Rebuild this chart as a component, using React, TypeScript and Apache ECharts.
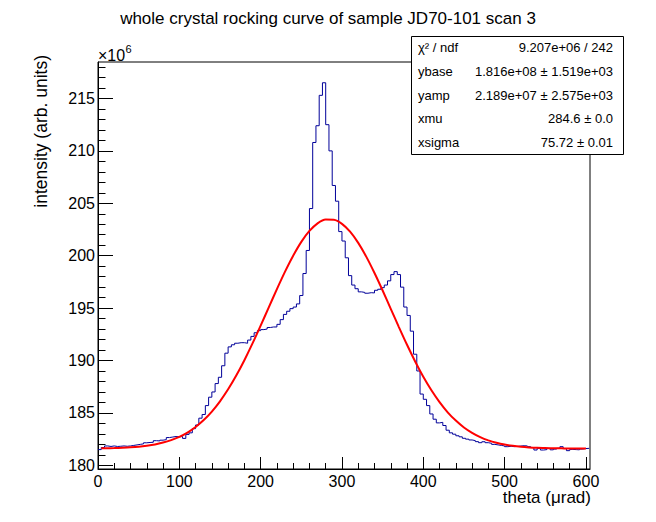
import { useEffect, useRef } from 'react';
import * as echarts from 'echarts';

const FONT = "'Liberation Sans', Arial, Helvetica, sans-serif";

// Histogram: 151 bins of width 4 starting at theta = 0 (µrad), values in units of 1e6
const BIN_START = 0;
const BIN_WIDTH = 4;
const HIST_VALUES = [
  181.5, 181.7, 181.85, 181.8, 181.85, 181.8, 181.82, 181.85, 181.82, 181.85,
  181.9, 181.95, 182.0, 182.05, 182.15, 182.18, 182.2, 182.35, 182.33, 182.4,
  182.45, 182.65, 182.7, 182.75, 182.72, 182.75, 182.57, 182.95, 183.1, 183.5,
  183.85, 184.5, 184.85, 185.7, 186.5, 187.0, 187.8, 188.4, 189.5, 190.7,
  191.3, 191.5, 191.65, 191.7, 191.7, 191.65, 191.95, 192.3, 192.65, 192.85,
  192.95, 193.0, 193.15, 193.2, 193.2, 193.45, 193.9, 194.4, 194.7, 194.95,
  195.1, 195.4, 196.2, 198.3, 200.5, 204.5, 210.8, 212.4, 215.3, 216.5,
  212.5, 210.0, 206.7, 205.2, 202.3, 201.4, 199.8, 198.1, 197.2, 196.85,
  196.55, 196.5, 196.42, 196.47, 196.45, 196.7, 196.8, 196.95, 197.2, 197.6,
  198.2, 198.48, 198.2, 197.0, 195.1, 194.3, 192.8, 190.6, 189.0, 186.8,
  186.3, 185.7, 184.9, 184.4, 184.05, 184.1, 183.8, 183.35, 183.1, 182.97,
  182.82, 182.72, 182.58, 182.5, 182.42, 182.36, 182.26, 182.16, 182.25, 182.16,
  182.1, 182.0, 181.95, 181.9, 181.85, 181.78, 181.82, 181.78, 181.8, 181.84,
  181.87, 181.85, 181.78, 181.7, 181.46, 181.62, 181.46, 181.5, 181.62, 181.48,
  181.55, 181.62, 181.78, 181.6, 181.4, 181.52, 181.5, 181.48, 181.55, 181.6, 181.62,
];

// Fit curve
const FIT_X = [
  4, 10, 20, 30, 40, 50, 60, 70, 80, 90, 100, 110, 120, 130, 140, 150, 160, 170, 180, 190,
  200, 210, 220, 230, 240, 250, 260, 270, 280, 290, 300, 310, 320, 330, 340, 350, 360, 370,
  380, 390, 400, 410, 420, 430, 440, 450, 460, 470, 480, 490, 500, 510, 520, 530, 540, 550,
  560, 570, 580, 590, 600,
];
const FIT_Y = [
  181.62, 181.63, 181.65, 181.68, 181.72, 181.78, 181.87, 181.99, 182.17, 182.41, 182.72,
  183.13, 183.66, 184.32, 185.13, 186.11, 187.25, 188.56, 190.03, 191.63, 193.33, 195.07,
  196.81, 198.48, 200.0, 201.32, 202.36, 203.09, 203.45, 203.43, 203.04, 202.29, 201.22,
  199.89, 198.35, 196.68, 194.93, 193.19, 191.5, 189.91, 188.45, 187.16, 186.03, 185.06,
  184.27, 183.61, 183.1, 182.69, 182.38, 182.15, 181.98, 181.86, 181.77, 181.71, 181.67,
  181.65, 181.63, 181.62, 181.61, 181.61, 181.6,
];

const X_MIN = 0;
const X_MAX = 605;
const Y_MIN = 179.65;
const Y_MAX = 218.48;

const X_MAJOR_TICKS = [0, 100, 200, 300, 400, 500, 600];
const X_MINOR_TICKS = [
  0, 20, 40, 60, 80, 100, 120, 140, 160, 180, 200, 220, 240, 260, 280, 300, 320, 340, 360,
  380, 400, 420, 440, 460, 480, 500, 520, 540, 560, 580, 600,
];
const Y_MAJOR_TICKS = [180, 185, 190, 195, 200, 205, 210, 215];
const Y_MINOR_TICKS = [
  180, 181, 182, 183, 184, 185, 186, 187, 188, 189, 190, 191, 192, 193, 194, 195, 196, 197,
  198, 199, 200, 201, 202, 203, 204, 205, 206, 207, 208, 209, 210, 211, 212, 213, 214, 215,
  216, 217, 218,
];

const TITLE = 'whole crystal rocking curve of sample JD70-101 scan 3';
const X_TITLE = 'theta (\u03bcrad)';
const Y_TITLE = 'intensity (arb. units)';
const STATS_LABELS = ['\u03c7\u00b2 / ndf', 'ybase', 'yamp', 'xmu', 'xsigma'];
const STATS_VALUES = [
  '9.207e+06 / 242',
  '1.816e+08 \u00b1 1.519e+03',
  '2.189e+07 \u00b1 2.575e+03',
  '284.6 \u00b1 0.0',
  '75.72 \u00b1 0.01',
];

export default function App() {
  const ref = useRef<HTMLDivElement>(null);

  useEffect(() => {
    if (!ref.current) return;
    const chart = echarts.init(ref.current, null, { renderer: 'svg' });

    const histData: number[][] = HIST_VALUES.map((v, i) => [BIN_START + i * BIN_WIDTH, v]);
    histData.push([
      BIN_START + HIST_VALUES.length * BIN_WIDTH,
      HIST_VALUES[HIST_VALUES.length - 1],
    ]);
    const fitData = FIT_X.map((x, i) => [x, FIT_Y[i]]);

    const black = { color: '#000', width: 1 };

    const txt = (
      text: string,
      x: number,
      y: number,
      size: number,
      align: string,
      extra: any = {}
    ) => ({
      type: 'text',
      x,
      y,
      z: 20,
      silent: true,
      ...extra,
      style: {
        text,
        fontSize: size,
        fontFamily: FONT,
        fill: '#000',
        align,
        textAlign: align,
        verticalAlign: 'middle',
        textVerticalAlign: 'middle',
      },
    });

    const statsRowsY = [47, 71, 95, 118.5, 142];
    const statsElems: any[] = [];
    STATS_LABELS.forEach((l, i) => {
      statsElems.push(txt(l, 418, statsRowsY[i], 13, 'left'));
      statsElems.push(txt(STATS_VALUES[i], 613, statsRowsY[i], 13, 'right'));
    });

    chart.setOption({
      animation: false,
      backgroundColor: '#fff',
      grid: {
        left: 98,
        top: 62,
        right: 66,
        bottom: 53,
        show: true,
        borderColor: '#000',
        borderWidth: 1,
        backgroundColor: 'transparent',
        containLabel: false,
        outerBoundsMode: 'none',
      },
      xAxis: [
        {
          type: 'value',
          min: X_MIN,
          max: X_MAX,
          position: 'bottom',
          axisLine: { show: true, onZero: false, lineStyle: black },
          axisTick: {
            show: true,
            inside: true,
            length: 12,
            customValues: X_MAJOR_TICKS,
            lineStyle: black,
          },
          axisLabel: {
            show: true,
            customValues: X_MAJOR_TICKS,
            color: '#000',
            fontSize: 16,
            fontFamily: FONT,
            margin: 4,
          },
          splitLine: { show: false },
          minorTick: { show: false },
        },
        {
          type: 'value',
          min: X_MIN,
          max: X_MAX,
          position: 'bottom',
          axisLine: { show: false, onZero: false },
          axisTick: {
            show: true,
            inside: true,
            length: 6,
            customValues: X_MINOR_TICKS,
            lineStyle: black,
          },
          axisLabel: { show: false },
          splitLine: { show: false },
        },
      ],
      yAxis: [
        {
          type: 'value',
          min: Y_MIN,
          max: Y_MAX,
          position: 'left',
          axisLine: { show: true, onZero: false, lineStyle: black },
          axisTick: {
            show: true,
            inside: true,
            length: 15,
            customValues: Y_MAJOR_TICKS,
            lineStyle: black,
          },
          axisLabel: {
            show: true,
            customValues: Y_MAJOR_TICKS,
            color: '#000',
            fontSize: 16,
            fontFamily: FONT,
            margin: 3,
          },
          splitLine: { show: false },
          minorTick: { show: false },
        },
        {
          type: 'value',
          min: Y_MIN,
          max: Y_MAX,
          position: 'left',
          axisLine: { show: false, onZero: false },
          axisTick: {
            show: true,
            inside: true,
            length: 7.5,
            customValues: Y_MINOR_TICKS,
            lineStyle: black,
          },
          axisLabel: { show: false },
          splitLine: { show: false },
        },
      ],
      series: [
        {
          type: 'line',
          name: 'histogram',
          xAxisIndex: 0,
          yAxisIndex: 0,
          data: histData,
          step: 'end',
          showSymbol: false,
          symbol: 'none',
          silent: true,
          lineStyle: { color: '#000099', width: 1 },
          itemStyle: { color: '#000099' },
          z: 2,
        },
        {
          type: 'line',
          name: 'fit',
          xAxisIndex: 0,
          yAxisIndex: 0,
          data: fitData,
          smooth: 0.3,
          showSymbol: false,
          symbol: 'none',
          silent: true,
          lineStyle: { color: '#ff0000', width: 2 },
          itemStyle: { color: '#ff0000' },
          z: 3,
        },
      ],
      graphic: [
        txt(TITLE, 328, 18, 17, 'center'),
        txt('\u00d710', 98, 55, 16, 'left'),
        txt('6', 125.5, 49, 11, 'left'),
        txt(Y_TITLE, 41, 55, 17.5, 'right', { rotation: Math.PI / 2 }),
        txt(X_TITLE, 591, 497, 17, 'right'),
        {
          type: 'rect',
          z: 15,
          silent: true,
          shape: { x: 411.5, y: 36.5, width: 212, height: 118 },
          style: { fill: '#fff', stroke: '#000', lineWidth: 1 },
        },
        ...statsElems,
      ],
    });

    return () => chart.dispose();
  }, []);

  return (
    <div
      ref={ref}
      style={{ position: 'absolute', left: 0, top: 0, width: 656, height: 522, background: '#fff' }}
    />
  );
}
